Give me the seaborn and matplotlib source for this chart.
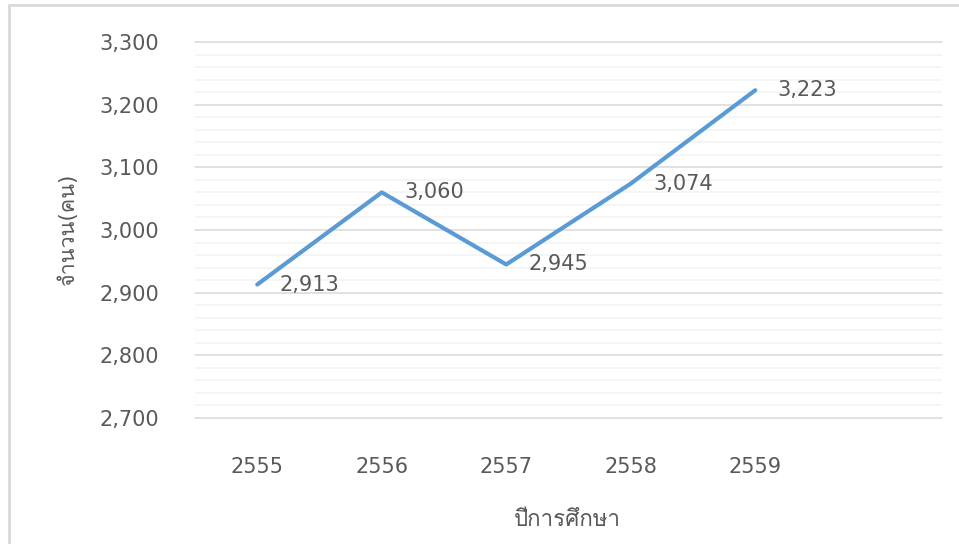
import matplotlib
matplotlib.use('Agg')
import matplotlib.pyplot as plt
from matplotlib import font_manager
from matplotlib.ft2font import FT2Font
from matplotlib.patches import Rectangle
from matplotlib.ticker import MultipleLocator, StrMethodFormatter
import pandas as pd
import seaborn as sns

# ─────────────────────────────────────────
# DATA
# ─────────────────────────────────────────
years    = ['2555', '2556', '2557', '2558', '2559']
students = [2913, 3060, 2945, 3074, 3223]
x_title  = 'ปีการศึกษา'
y_title  = 'จำนวน(คน)'
# ─────────────────────────────────────────

LINE_COLOR = '#5B9BD5'
TEXT_COLOR = '#595959'


def find_thai_font():
    """Look for any installed font that has Thai glyphs."""
    for fe in font_manager.fontManager.ttflist:
        try:
            cmap = FT2Font(fe.fname).get_charmap()
        except Exception:
            continue
        if 0x0E1B in cmap and 0x0E28 in cmap:
            return fe.name
    return None


sns.set_theme(style='white')
thai = find_thai_font()
families = ['DejaVu Sans']
if thai:
    families = ['DejaVu Sans', thai]
plt.rcParams['font.family'] = families

df = pd.DataFrame({'year': years, 'students': students})

fig = plt.figure(figsize=(9.59, 5.44), dpi=100)
ax = fig.add_axes([195 / 959, 1 - 418 / 544, 747 / 959, 376 / 544])

sns.lineplot(data=df, x='year', y='students', ax=ax, color=LINE_COLOR,
             linewidth=3, solid_capstyle='round', sort=False)

ax.set_xlim(-0.5, 5.5)
ax.set_ylim(2700, 3300)
ax.set_xticks(range(len(years)))
ax.set_xticklabels(years)
ax.yaxis.set_major_locator(MultipleLocator(100))
ax.yaxis.set_minor_locator(MultipleLocator(20))
ax.yaxis.set_major_formatter(StrMethodFormatter('{x:,.0f}'))

ax.grid(axis='y', which='major', color='#D9D9D9', linewidth=1.1)
ax.grid(axis='y', which='minor', color='#F2F2F2', linewidth=1.1)
ax.grid(axis='x', visible=False)
ax.set_axisbelow(True)
for gl in ax.get_ygridlines():
    gl.set_clip_on(False)
for s in ax.spines.values():
    s.set_visible(False)

ax.tick_params(axis='y', which='both', length=0, pad=26,
               labelsize=15, labelcolor=TEXT_COLOR)
ax.tick_params(axis='x', length=0, pad=28, labelsize=15, labelcolor=TEXT_COLOR)

# data labels, right of each point
for i, v in enumerate(students):
    ax.annotate(f'{v:,}', xy=(i, v), xytext=(16, 0), textcoords='offset points',
                ha='left', va='center', fontsize=15, color=TEXT_COLOR)

ax.set_xlabel('')
ax.set_ylabel('')
fig.text(567 / 959, 1 - 520 / 544, x_title, ha='center', va='center',
         fontsize=16, color=TEXT_COLOR)
fig.text(68 / 959, 1 - 229 / 544, y_title, ha='center', va='center',
         rotation=90, fontsize=15.5, color=TEXT_COLOR)

# chart area border (cropped on right and bottom)
fig.patches.append(Rectangle((9 / 959, -0.05), 1.0, 1 - 5 / 544 + 0.05,
                             transform=fig.transFigure, fill=False,
                             edgecolor='#D9D9D9', linewidth=2))

fig.savefig('out.png', dpi=100)
